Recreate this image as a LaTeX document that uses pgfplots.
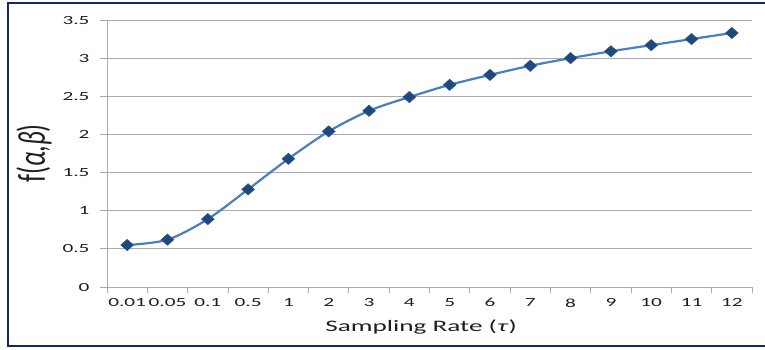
\documentclass[border=0pt]{standalone}
\usepackage{fontspec}
\setmainfont{Carlito}
\newfontfamily\widefont[FakeStretch=1.7]{Carlito}
\usepackage{pgfplots}
\pgfplotsset{compat=1.18}
\definecolor{framecol}{RGB}{16,40,110}
\definecolor{linecol}{RGB}{74,126,193}
\definecolor{markcol}{RGB}{31,73,125}
\definecolor{gridcol}{RGB}{170,170,170}
\definecolor{txtcol}{RGB}{30,30,30}
\begin{document}
\begin{tikzpicture}[x=1pt,y=1pt]
\begin{axis}[
  at={(107pt,62pt)}, anchor=south west,
  scale only axis, width=645pt, height=267pt,
  xmin=-0.5, xmax=15.5, ymin=0, ymax=3.5,
  xtick={0,...,15},
  xticklabels={0.01,0.05,0.1,0.5,1,2,3,4,5,6,7,8,9,10,11,12},
  minor xtick={-0.5,0.5,...,15.5},
  ytick={0,0.5,...,3.5},
  major x tick style={draw=none},
  tick align=outside,
  major tick length=7pt, minor tick length=6pt,
  tick style={gridcol, line width=0.8pt},
  axis x line*=bottom, axis y line*=left,
  axis line style={gridcol, line width=0.8pt, -},
  ymajorgrids, grid style={gridcol, line width=0.8pt},
  /pgf/number format/assume math mode=true,
  /pgf/number format/fixed,
  ticklabel style={font=\fontsize{12.5}{14}\widefont, text=txtcol},
  yticklabel style={anchor=east, xshift=-7pt},
  xticklabel style={anchor=north, yshift=-1pt},
  xlabel={Sampling Rate (\textit{τ})},
  xlabel style={at={(axis description cs:0.487,-0.15)}, anchor=center, font=\fontsize{16}{19}\widefont, text=txtcol},
  ylabel={\scalebox{1}[1.5]{f(\textit{α},\textit{β})}},
  ylabel style={at={(axis description cs:-0.113,0.5)}, anchor=center, font=\fontsize{26}{30}\selectfont, text=txtcol},
  clip=false,
]
\addplot[color=linecol, line width=2.2pt, smooth, tension=0.5,
  mark=diamond*, mark size=5.5pt,
  mark options={xscale=1.5, solid, fill=markcol, draw=markcol!80!linecol, line width=0.8pt}]
coordinates {
(0,0.55) (1,0.62) (2,0.89) (3,1.28) (4,1.68) (5,2.04) (6,2.31) (7,2.49)
(8,2.65) (9,2.78) (10,2.90) (11,3.00) (12,3.09) (13,3.17) (14,3.25) (15,3.33)
};
\end{axis}
\draw[framecol, line width=2pt] (765,346) -- (8,346) -- (8,3) -- (765,3);
\pgfresetboundingbox
\useasboundingbox (0,0) rectangle (765,349);
\end{tikzpicture}
\end{document}
